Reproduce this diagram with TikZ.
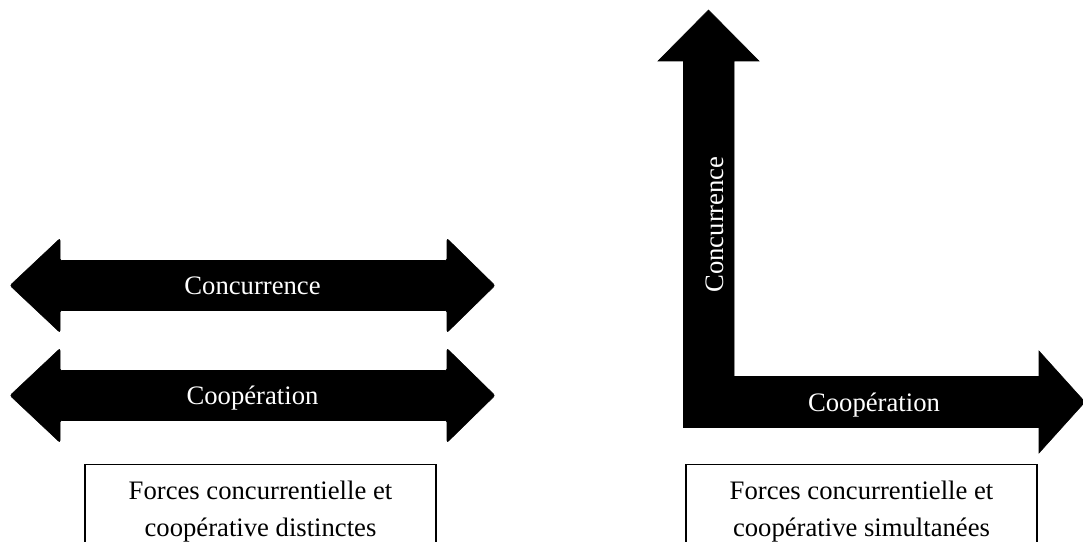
\documentclass[tikz,border=0pt]{standalone}
\usepackage{fontspec}
\setmainfont{Liberation Serif}

\tikzset{
	bigarrow/.style={fill=black,draw=black,line width=.4pt},
	arrowlabel/.style={text=white,inner sep=0pt,font=\fontsize{20}{24}\selectfont},
	legendbox/.style={draw,line width=1.1pt},
	legendtext/.style={align=center,inner sep=0pt,font=\fontsize{20}{27.75}\selectfont}
}

\begin{document}
\begin{tikzpicture}[x=.75pt,y=-.75pt]
	\useasboundingbox (0,0) rectangle (1083,542);
	\clip (0,0) rectangle (1083,542);
	
	% two separate double arrows
	\foreach \y/\name/\txt in {285.5/concL/Concurrence,395.5/coopL/Coopération}{
		\filldraw[bigarrow,rounded corners=1.5pt] (10,\y) -- (60,\y-47) -- (60,\y-25) 
		-- (447,\y-25) -- (447,\y-47) -- (495,\y) -- (447,\y+47) -- (447,\y+25) 
		-- (60,\y+25) -- (60,\y+47) -- cycle;
		\node[arrowlabel,anchor=base] (\name) at (252.5,\y+8.5) {\txt};
	}
	
	% L shaped arrow
	\filldraw[bigarrow] (683.5,427.5) -- (683.5,61) -- (658,61) -- (708.5,10) 
	-- (759,61) -- (734,61) -- (734,376.5) -- (1039,376.5) -- (1039,351) 
	-- (1085,402) -- (1039,453) -- (1039,427.5) -- cycle;
	\node[arrowlabel,anchor=base,rotate=90] (concR) at (723,224.5) {Concurrence};
	\node[arrowlabel,anchor=base] (coopR) at (874,411) {Coopération};
	
	% legends
	\draw[legendbox] (85,464.5) rectangle (436,600);
	\node[legendtext] (boxL) at (260.5,512) {Forces concurrentielle et\\coopérative distinctes};
	
	\draw[legendbox] (686,464.5) rectangle (1037,600);
	\node[legendtext] (boxR) at (861.5,512) {Forces concurrentielle et\\coopérative simultanées};
\end{tikzpicture}
\end{document}
